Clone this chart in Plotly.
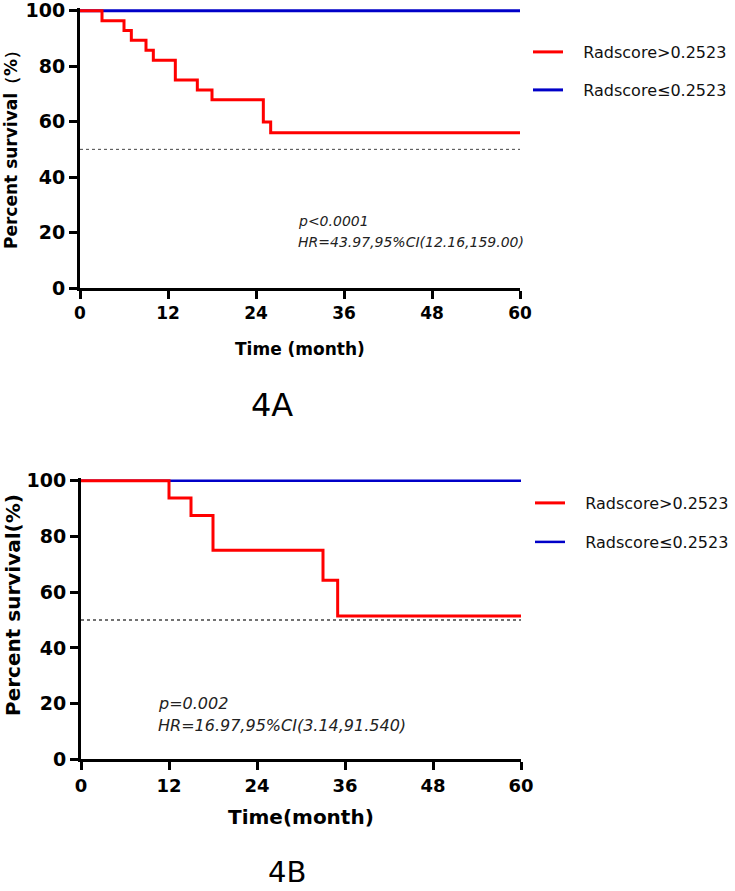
import plotly.graph_objects as go

W, H = 735, 891

# ---------------- data ----------------
a_time_high = [0, 3, 6, 7, 9, 10, 13, 16, 18, 25, 26, 60]
a_surv_high = [100, 96.4, 92.9, 89.3, 85.7, 82.1, 75.0, 71.4, 67.9, 59.9, 56.0, 56.0]
a_time_low = [0, 60]
a_surv_low = [100, 100]

b_time_high = [0, 12, 15, 18, 33, 35, 60]
b_surv_high = [100, 93.75, 87.5, 75.0, 64.3, 51.4, 51.4]
b_time_low = [0, 60]
b_surv_low = [100, 100]

median_time = [0, 60]
median_surv = [50, 50]

x_ticks = [0, 12, 24, 36, 48, 60]
y_ticks = [0, 20, 40, 60, 80, 100]

name_high = "Radscore>0.2523"
name_low = "Radscore≤0.2523"

RED = "#FF0000"
BLUE = "#0000C8"
FONT = "DejaVu Sans"
PAD = "\u00a0\u00a0\u00a0"


def px_x(p):
    return p / W


def px_y(p):
    return 1 - p / H


fig = go.Figure()

# ---- panel A ----
fig.add_trace(go.Scatter(x=median_time, y=median_surv, mode="lines",
                         line=dict(color="#444444", width=1, dash="dot"),
                         showlegend=False, xaxis="x", yaxis="y", hoverinfo="skip"))
fig.add_trace(go.Scatter(x=a_time_low, y=a_surv_low, mode="lines", name=PAD + name_low,
                         line=dict(color=BLUE, width=3, shape="hv"),
                         xaxis="x", yaxis="y", legend="legend2"))
fig.add_trace(go.Scatter(x=a_time_high, y=a_surv_high, mode="lines", name=PAD + name_high,
                         line=dict(color=RED, width=3, shape="hv"),
                         xaxis="x", yaxis="y", legend="legend"))

# ---- panel B ----
fig.add_trace(go.Scatter(x=median_time, y=median_surv, mode="lines",
                         line=dict(color="#444444", width=1.5, dash="dot"),
                         showlegend=False, xaxis="x2", yaxis="y2", hoverinfo="skip"))
fig.add_trace(go.Scatter(x=b_time_low, y=b_surv_low, mode="lines", name=PAD + name_low,
                         line=dict(color=BLUE, width=2.5, shape="hv"),
                         xaxis="x2", yaxis="y2", legend="legend4"))
fig.add_trace(go.Scatter(x=b_time_high, y=b_surv_high, mode="lines", name=PAD + name_high,
                         line=dict(color=RED, width=3, shape="hv"),
                         xaxis="x2", yaxis="y2", legend="legend3"))

axis_common = dict(showline=True, linecolor="black", linewidth=3, ticks="outside",
                   ticklen=8, tickwidth=3, tickcolor="black", showgrid=False,
                   zeroline=False, fixedrange=True, automargin=False,
                   ticklabeloverflow="allow")

fig.update_layout(
    template="none",
    width=W, height=H, autosize=False,
    margin=dict(l=0, r=0, t=0, b=0, autoexpand=False),
    paper_bgcolor="white", plot_bgcolor="white",
    xaxis=dict(domain=[px_x(80), px_x(520)], range=[0, 60], tickvals=x_ticks,
               anchor="y", tickfont=dict(family=FONT, size=17, color="black", weight="bold"),
               **axis_common),
    yaxis=dict(domain=[px_y(288), px_y(7.93)], range=[0, 101], tickvals=y_ticks,
               anchor="x", tickfont=dict(family=FONT, size=19, color="black", weight="bold"),
               **axis_common),
    xaxis2=dict(domain=[px_x(81), px_x(521)], range=[0, 60], tickvals=x_ticks,
                anchor="y2", tickfont=dict(family=FONT, size=18, color="black", weight="bold"),
                **axis_common),
    yaxis2=dict(domain=[px_y(759.3), px_y(477.9)], range=[0, 101], tickvals=y_ticks,
                anchor="x2", tickfont=dict(family=FONT, size=19, color="black", weight="bold"),
                **axis_common),
)

leg_common = dict(xanchor="left", yanchor="middle", bgcolor="rgba(0,0,0,0)",
                  font=dict(family=FONT, size=16, color="#111111"), itemwidth=30,
                  borderwidth=0)
fig.update_layout(
    legend=dict(x=px_x(528), y=px_y(52), **leg_common),
    legend2=dict(x=px_x(528), y=px_y(90), **leg_common),
    legend3=dict(x=px_x(530), y=px_y(503), **leg_common),
    legend4=dict(x=px_x(530), y=px_y(542), **leg_common),
)

ann = []
# axis titles
ann.append(dict(text="Percent survival（%）", x=px_x(11), y=px_y(146), xref="paper", yref="paper",
                textangle=-90, showarrow=False, xanchor="center", yanchor="middle",
                font=dict(family=FONT, size=17, color="black", weight="bold")))
ann.append(dict(text="Time (month)", x=px_x(300), y=px_y(349), xref="paper", yref="paper",
                showarrow=False, xanchor="center", yanchor="middle",
                font=dict(family=FONT, size=17, color="black", weight="bold")))
ann.append(dict(text="Percent survival(%)", x=px_x(13), y=px_y(605), xref="paper", yref="paper",
                textangle=-90, showarrow=False, xanchor="center", yanchor="middle",
                font=dict(family=FONT, size=20, color="black", weight="bold")))
ann.append(dict(text="Time(month)", x=px_x(301), y=px_y(817), xref="paper", yref="paper",
                showarrow=False, xanchor="center", yanchor="middle",
                font=dict(family=FONT, size=20, color="black", weight="bold")))
# panel labels
ann.append(dict(text="4A", x=px_x(272), y=px_y(405), xref="paper", yref="paper",
                showarrow=False, xanchor="center", yanchor="middle",
                font=dict(family=FONT, size=32, color="black")))
ann.append(dict(text="4B", x=px_x(287), y=px_y(872), xref="paper", yref="paper",
                showarrow=False, xanchor="center", yanchor="middle",
                font=dict(family=FONT, size=29, color="black")))
# statistics
ann.append(dict(text="<i>p&lt;0.0001</i>", x=px_x(296), y=px_y(221), xref="paper", yref="paper",
                showarrow=False, xanchor="left", yanchor="middle",
                font=dict(family=FONT, size=14, color="#222222")))
ann.append(dict(text="<i>HR=43.97,95%CI(12.16,159.00)</i>", x=px_x(296), y=px_y(242),
                xref="paper", yref="paper", showarrow=False, xanchor="left", yanchor="middle",
                font=dict(family=FONT, size=14, color="#222222")))
ann.append(dict(text="<i>p=0.002</i>", x=px_x(156), y=px_y(703), xref="paper", yref="paper",
                showarrow=False, xanchor="left", yanchor="middle",
                font=dict(family=FONT, size=16, color="#222222")))
ann.append(dict(text="<i>HR=16.97,95%CI(3.14,91.540)</i>", x=px_x(156), y=px_y(725),
                xref="paper", yref="paper", showarrow=False, xanchor="left", yanchor="middle",
                font=dict(family=FONT, size=16, color="#222222")))
fig.update_layout(annotations=ann)

fig.write_html("out.html", config={"displayModeBar": False, "staticPlot": True},
               post_script="document.body.style.margin='0';document.body.style.overflow='hidden';")
